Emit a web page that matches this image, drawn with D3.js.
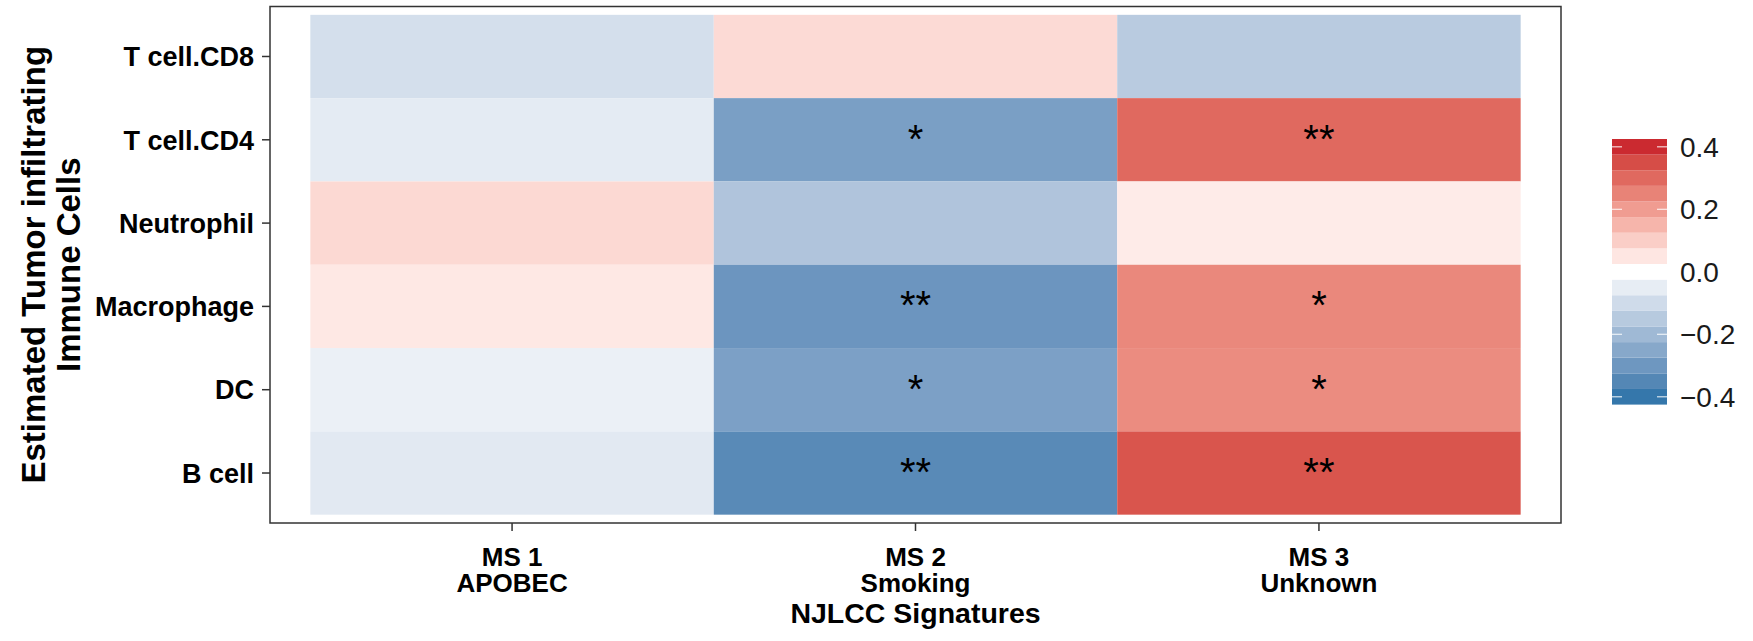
<!DOCTYPE html>
<html>
<head>
<meta charset="utf-8">
<script src="https://cdn.jsdelivr.net/npm/d3@7"></script>
<style>
  body { margin: 0; background: #fff; }
  text { font-family: "Liberation Sans", Arial, Helvetica, sans-serif; }
</style>
</head>
<body>
<svg></svg>
<script>
// Heatmap: immune cell estimates vs NJLCC signatures

var cells = ["T cell.CD8", "T cell.CD4", "Neutrophil", "Macrophage", "DC", "B cell"];
var signatures = ["MS 1", "MS 2", "MS 3"];
var sigNames = ["APOBEC", "Smoking", "Unknown"];

// correlation values per signature (same order as cells)
var ms1 = [-0.09, -0.056, 0.077, 0.047, -0.042, -0.061];
var ms2 = [0.074, -0.277, -0.166, -0.305, -0.272, -0.34];
var ms3 = [-0.146, 0.30, 0.04, 0.24, 0.233, 0.337];

// significance marks
var stars1 = ["", "", "", "", "", ""];
var stars2 = ["", "*", "", "**", "*", "**"];
var stars3 = ["", "**", "", "*", "*", "**"];

var legendTicks = [0.4, 0.2, 0.0, -0.2, -0.4];

var width = 1753, height = 641;

var svg = d3.select("svg")
  .attr("width", width)
  .attr("height", height);

var panel = {left: 270, right: 1561, top: 6.5, bottom: 523};

var x = d3.scaleBand()
  .domain(signatures)
  .range([panel.left, panel.right])
  .paddingInner(0)
  .paddingOuter(0.1);

var y = d3.scaleBand()
  .domain(cells)
  .range([panel.top, panel.bottom])
  .paddingInner(0)
  .paddingOuter(0.1);

var color = d3.scaleLinear()
  .domain([-0.4, 0, 0.4])
  .range(["#3577AB", "#ffffff", "#CB2A30"])
  .interpolate(d3.interpolateLab)
  .clamp(true);

// build long table
var values = [ms1, ms2, ms3], stars = [stars1, stars2, stars3];
var data = [];
signatures.forEach(function(s, i) {
  cells.forEach(function(c, j) {
    data.push({sig: s, cell: c, value: values[i][j], star: stars[i][j]});
  });
});

// tiles
svg.append("g")
  .selectAll("rect")
  .data(data)
  .enter().append("rect")
  .attr("x", function(d) { return x(d.sig); })
  .attr("y", function(d) { return y(d.cell); })
  .attr("width", x.bandwidth())
  .attr("height", y.bandwidth())
  .attr("fill", function(d) { return color(d.value); });

// stars
svg.append("g")
  .selectAll("text")
  .data(data.filter(function(d) { return d.star; }))
  .enter().append("text")
  .attr("x", function(d) { return x(d.sig) + x.bandwidth() / 2; })
  .attr("y", function(d) { return y(d.cell) + y.bandwidth() / 2 + 13; })
  .attr("text-anchor", "middle")
  .style("font-size", "40px")
  .style("fill", "#000")
  .text(function(d) { return d.star; });

// panel border
svg.append("rect")
  .attr("x", panel.left)
  .attr("y", panel.top)
  .attr("width", panel.right - panel.left)
  .attr("height", panel.bottom - panel.top)
  .attr("fill", "none")
  .attr("stroke", "#333")
  .attr("stroke-width", 1.5);

// y axis
var yAxis = svg.append("g")
  .attr("transform", "translate(" + panel.left + ",0)")
  .call(d3.axisLeft(y).tickSize(8).tickPadding(8));
yAxis.select(".domain").remove();
yAxis.selectAll(".tick line").attr("stroke", "#333").attr("stroke-width", 1.5);
yAxis.selectAll(".tick text")
  .attr("dy", "0.36em")
  .style("font-size", "27px")
  .style("font-weight", "bold")
  .style("fill", "#000")
  .style("font-family", "'Liberation Sans', Arial, sans-serif");

// x axis
var xAxis = svg.append("g")
  .attr("transform", "translate(0," + panel.bottom + ")")
  .call(d3.axisBottom(x).tickSize(8));
xAxis.select(".domain").remove();
xAxis.selectAll(".tick line").attr("stroke", "#333").attr("stroke-width", 1.5);
xAxis.selectAll(".tick text").remove();
xAxis.selectAll(".tick").each(function(d, i) {
  var t = d3.select(this).append("text")
    .attr("text-anchor", "middle")
    .style("font-size", "26px")
    .style("font-weight", "bold")
    .style("fill", "#000")
    .style("font-family", "'Liberation Sans', Arial, sans-serif");
  t.append("tspan").attr("x", 0).attr("y", 43).text(d);
  t.append("tspan").attr("x", 0).attr("y", 69).text(sigNames[i]);
});

// axis titles
svg.append("text")
  .attr("x", (panel.left + panel.right) / 2)
  .attr("y", 623)
  .attr("text-anchor", "middle")
  .style("font-size", "28.5px")
  .style("font-weight", "bold")
  .text("NJLCC Signatures");

var yTitle = svg.append("text")
  .attr("transform", "translate(0," + ((panel.top + panel.bottom) / 2) + ") rotate(-90)")
  .attr("text-anchor", "middle")
  .style("font-size", "33px")
  .style("font-weight", "bold");
yTitle.append("tspan").attr("x", 0).attr("y", 45).text("Estimated Tumor infiltrating");
yTitle.append("tspan").attr("x", 0).attr("y", 80).text("Immune Cells");

// legend (binned colour bar)
var legend = {x: 1612, w: 55, top: 139, bottom: 404.6};
var ly = d3.scaleLinear()
  .domain([0.425, -0.425])
  .range([legend.top, legend.bottom]);

var bins = d3.range(-8, 9).map(function(k) { return k * 0.05; });
var lg = svg.append("g");
lg.selectAll("rect")
  .data(bins)
  .enter().append("rect")
  .attr("x", legend.x)
  .attr("y", function(d) { return ly(d + 0.025); })
  .attr("width", legend.w)
  .attr("height", function(d) { return ly(d - 0.025) - ly(d + 0.025); })
  .attr("fill", function(d) { return Math.abs(d) < 1e-9 ? "#ffffff" : color(d); });

var fmt = d3.format(".1f");
legendTicks.forEach(function(v) {
  [legend.x, legend.x + legend.w - 10].forEach(function(x0) {
    lg.append("line")
      .attr("x1", x0).attr("x2", x0 + 10)
      .attr("y1", ly(v)).attr("y2", ly(v))
      .attr("stroke", "#fff")
      .attr("stroke-opacity", 0.8)
      .attr("stroke-width", 1.2);
  });
  lg.append("text")
    .attr("x", 1680)
    .attr("y", ly(v))
    .attr("dy", "0.36em")
    .style("font-size", "28px")
    .style("fill", "#1a1a1a")
    .text(fmt(v));
});
</script>
</body>
</html>
